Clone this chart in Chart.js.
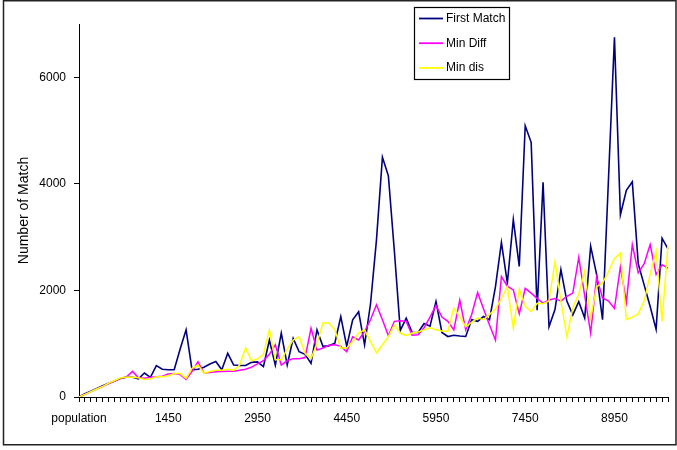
<!DOCTYPE html>
<html><head><meta charset="utf-8">
<script src="https://cdn.jsdelivr.net/npm/chart.js@4.4.0/dist/chart.umd.min.js"></script>
<style>html,body{margin:0;padding:0;background:#fff;}#wrap{width:677px;height:450px;}</style>
</head><body><div id="wrap"><canvas id="c" width="677" height="450"></canvas></div>
<script>
const categories = ["population","50","150","250","350","450","550","650","750","850",
"950","1050","1150","1250","1350","1450","1550","1650","1750","1850",
"1950","2050","2150","2250","2350","2450","2550","2650","2750","2850",
"2950","3050","3150","3250","3350","3450","3550","3650","3750","3850",
"3950","4050","4150","4250","4350","4450","4550","4650","4750","4850",
"4950","5050","5150","5250","5350","5450","5550","5650","5750","5850",
"5950","6050","6150","6250","6350","6450","6550","6650","6750","6850",
"6950","7050","7150","7250","7350","7450","7550","7650","7750","7850",
"7950","8050","8150","8250","8350","8450","8550","8650","8750","8850",
"8950","9050","9150","9250","9350","9450","9550","9650","9750","9850"];
const xTickLabels = ["population","1450","2950","4450","5950","7450","8950"];
const yTicks = [0,2000,4000,6000];
const seriesNames = ["First Match","Min Diff","Min dis"];
const seriesColors = ["#000080","#FF00FF","#FFFF00"];

const firstMatch = [0,60,110,160,210,260,300,350,370,370,
340,450,370,590,520,510,510,900,1260,510,
520,560,620,665,510,820,600,590,590,650,
660,570,1070,600,1200,600,1100,850,800,630,
1260,950,960,1010,1510,950,1450,1600,980,1750,
2950,4500,4150,2750,1250,1480,1210,1210,1380,1330,
1790,1210,1135,1160,1145,1135,1450,1420,1510,1450,
2070,2900,2140,3330,2450,5090,4780,1630,4030,1320,
1640,2390,1800,1540,1790,1480,2830,2300,1450,4100,
6750,3420,3880,4040,2500,2100,1700,1270,2980,2780];

const minDiff = [0,50,100,150,200,250,300,350,380,480,
360,350,370,380,390,430,440,420,330,480,
660,450,460,475,480,485,485,500,520,560,
620,680,800,980,600,680,720,720,740,1290,
880,920,970,980,950,850,1130,1070,1230,1450,
1730,1450,1150,1420,1430,1420,1160,1170,1300,1500,
1720,1500,1420,1260,1820,1260,1550,1960,1650,1350,
1070,2260,2080,2010,1560,2040,1950,1850,1760,1820,
1850,1800,1890,1950,2620,1900,1200,2250,1860,1800,
1660,2440,1780,2860,2330,2500,2860,2300,2480,2420];

const minDis = [0,50,100,150,200,260,310,360,370,370,
360,330,340,380,380,400,440,440,350,540,
600,445,480,500,500,520,500,600,920,680,
715,800,1260,700,700,900,1070,1130,820,720,
1000,1390,1390,1260,920,920,1040,1200,1260,1040,
830,980,1134,1354,1200,1150,1200,1220,1260,1300,
1260,1240,1230,1670,1510,1320,1400,1480,1450,1550,
1650,1850,2070,1290,2020,1700,1600,1760,1750,1800,
2540,1800,1130,1670,1930,2360,1480,2070,2140,2350,
2600,2700,1450,1500,1560,1800,2300,2740,1420,2850];

const FONT = '"Liberation Sans", Arial, sans-serif';

const framePlugin = {
  id: 'frame',
  beforeDraw(chart) {
    const ctx = chart.ctx;
    ctx.save();
    ctx.fillStyle = '#fff';
    ctx.fillRect(0, 0, chart.width, chart.height);
    ctx.restore();
  },
  afterDraw(chart) {
    const ctx = chart.ctx;
    ctx.save();
    ctx.strokeStyle = '#222';
    ctx.lineWidth = 1.5;
    ctx.strokeRect(3.5, 0.75, 672.5, 444);
    ctx.restore();
  }
};

const legendPlugin = {
  id: 'boxLegend',
  afterDraw(chart) {
    const ctx = chart.ctx;
    const x0 = 414, y0 = 7, w = 95, h = 72;
    ctx.save();
    ctx.fillStyle = '#fff';
    ctx.fillRect(x0, y0, w, h);
    ctx.strokeStyle = '#000';
    ctx.lineWidth = 1.2;
    ctx.strokeRect(x0 + 0.5, y0 + 0.5, w, h);
    ctx.font = '12px ' + FONT;
    ctx.textBaseline = 'middle';
    ctx.textAlign = 'left';
    chart.data.datasets.forEach((ds, i) => {
      const yy = y0 + 11.5 + i * 24.7;
      ctx.strokeStyle = ds.borderColor;
      ctx.lineWidth = 1.8;
      ctx.beginPath();
      ctx.moveTo(x0 + 5, yy);
      ctx.lineTo(x0 + 29, yy);
      ctx.stroke();
      ctx.fillStyle = '#000';
      ctx.fillText(ds.label, x0 + 32, yy);
    });
    ctx.restore();
  }
};

const data = {
  labels: categories,
  datasets: [
    { label: seriesNames[0], data: firstMatch, borderColor: seriesColors[0], backgroundColor: seriesColors[0], borderWidth: 1.6, order: 3 },
    { label: seriesNames[1], data: minDiff, borderColor: seriesColors[1], backgroundColor: seriesColors[1], borderWidth: 1.5, order: 2 },
    { label: seriesNames[2], data: minDis, borderColor: seriesColors[2], backgroundColor: seriesColors[2], borderWidth: 1.5, order: 1 }
  ]
};

new Chart(document.getElementById('c'), {
  type: 'line',
  data: data,
  plugins: [framePlugin, legendPlugin],
  options: {
    responsive: false,
    animation: false,
    devicePixelRatio: 1,
    layout: { padding: { left: 16, top: 24, right: 6, bottom: 10 } },
    elements: { point: { radius: 0 }, line: { tension: 0 } },
    plugins: { legend: { display: false }, tooltip: { enabled: false } },
    scales: {
      x: {
        type: 'category',
        offset: false,
        grid: { display: true, drawOnChartArea: false, drawTicks: true, tickLength: 5, color: '#000', lineWidth: 1 },
        border: { display: true, color: '#000', width: 1 },
        ticks: {
          autoSkip: false, maxRotation: 0, minRotation: 0, padding: 9, color: '#000',
          font: { size: 12, family: FONT },
          callback: function(v, i) { return xTickLabels.includes(categories[i]) ? categories[i] : ''; }
        },
        afterFit: function(s) { s.height = 43; }
      },
      y: {
        min: 0, max: 7000,
        afterBuildTicks: function(s) { s.ticks = yTicks.map(v => ({ value: v })); },
        grid: { display: true, drawOnChartArea: false, drawTicks: true, tickLength: 5, color: '#000' },
        border: { display: true, color: '#000', width: 1 },
        ticks: { padding: 8, color: '#000', font: { size: 12, family: FONT },
          callback: function(v) { return String(v); } },
        title: { display: true, text: 'Number of Match', color: '#000', font: { size: 14, family: FONT }, padding: 0 },
        afterFit: function(s) { s.width = 63; }
      }
    }
  }
});
</script>
</body></html>
